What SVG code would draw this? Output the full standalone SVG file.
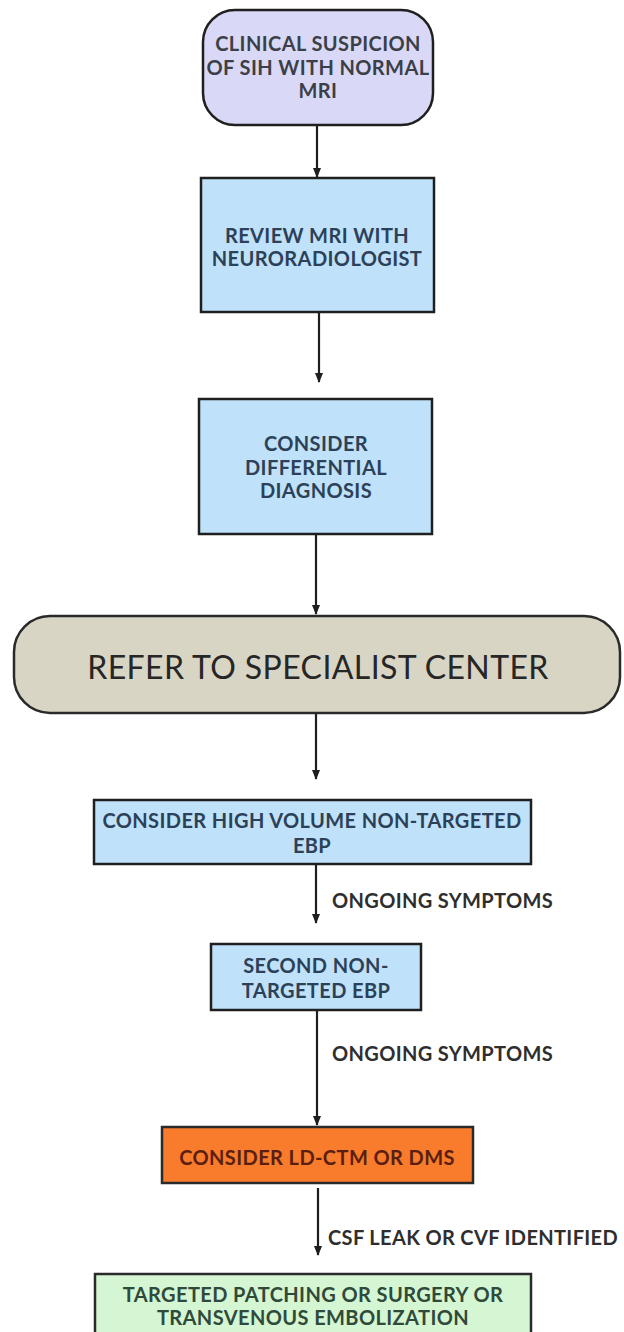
<svg xmlns="http://www.w3.org/2000/svg" width="624" height="1332" viewBox="0 0 624 1332">
<defs>
<marker id="ah" markerWidth="10" markerHeight="8" refX="9" refY="4" orient="auto" markerUnits="userSpaceOnUse">
<path d="M0,0 L10,4 L0,8 z" fill="#1e1e1e"/>
</marker>
<style>
.t{font-family:Lato,"Noto Sans","Liberation Sans",sans-serif;font-weight:700;font-size:20px;letter-spacing:0.4px;text-anchor:middle;dominant-baseline:central}
.blue{fill:#bfe2fa;stroke:#1f1f1f;stroke-width:2.5}
.bt{fill:#2c4158}
.lbl{font-family:Lato,"Noto Sans","Liberation Sans",sans-serif;font-weight:700;fill:#2e2e2e;font-size:20px;letter-spacing:0.35px;dominant-baseline:central}
.c{stroke:#1e1e1e;stroke-width:2.2;fill:none;marker-end:url(#ah)}
.big{font-family:Lato,"Noto Sans","Liberation Sans",sans-serif;font-weight:400;font-size:32px;letter-spacing:0.4px;text-anchor:middle;dominant-baseline:central;fill:#262626}
</style>
</defs>
<rect width="624" height="1332" fill="#ffffff"/>
<g id="connectors">
<line class="c" x1="317" y1="125" x2="317" y2="177"/>
<line class="c" x1="319" y1="312" x2="319" y2="382"/>
<line class="c" x1="316" y1="534" x2="316" y2="614"/>
<line class="c" x1="316" y1="713" x2="316" y2="779"/>
<line class="c" x1="316" y1="864" x2="316" y2="923"/>
<text class="lbl" x="332" y="900">ONGOING SYMPTOMS</text>
<line class="c" x1="317" y1="1010" x2="317" y2="1125"/>
<text class="lbl" x="332" y="1053">ONGOING SYMPTOMS</text>
<line class="c" x1="318" y1="1188" x2="318" y2="1255"/>
<text class="lbl" x="328" y="1237">CSF LEAK OR CVF IDENTIFIED</text>
</g>
<g id="n1">
<rect x="203" y="10" width="230" height="115" rx="32" fill="#d9d9f7" stroke="#1f1f1f" stroke-width="2.5"/>
<text class="t" fill="#3b3f48" x="318" y="43">CLINICAL SUSPICION</text>
<text class="t" fill="#3b3f48" x="318" y="67">OF SIH WITH NORMAL</text>
<text class="t" fill="#3b3f48" x="318" y="90">MRI</text>
</g>
<g id="n2">
<rect class="blue" x="201" y="178" width="233" height="134"/>
<text class="t bt" x="317" y="235">REVIEW MRI WITH</text>
<text class="t bt" x="317" y="258">NEURORADIOLOGIST</text>
</g>
<g id="n3">
<rect class="blue" x="199" y="399" width="233" height="135"/>
<text class="t bt" x="316" y="443">CONSIDER</text>
<text class="t bt" x="316" y="467">DIFFERENTIAL</text>
<text class="t bt" x="316" y="490">DIAGNOSIS</text>
</g>
<g id="n4">
<rect x="14" y="616" width="606" height="97" rx="36" fill="#d9d5c5" stroke="#2a2a2a" stroke-width="2.5"/>
<text class="big" x="318" y="666">REFER TO SPECIALIST CENTER</text>
</g>
<g id="n5">
<rect class="blue" x="94" y="800" width="437" height="64"/>
<text class="t bt" x="312" y="820">CONSIDER HIGH VOLUME NON-TARGETED</text>
<text class="t bt" x="312" y="845">EBP</text>
</g>
<g id="n6">
<rect class="blue" x="211" y="944" width="210" height="66"/>
<text class="t bt" x="316" y="965">SECOND NON-</text>
<text class="t bt" x="316" y="990">TARGETED EBP</text>
</g>
<g id="n7">
<rect x="162" y="1127" width="311" height="56" fill="#f97b2c" stroke="#2a2a2a" stroke-width="2.5"/>
<text class="t" x="317" y="1157" fill="#5a1f10">CONSIDER LD-CTM OR DMS</text>
</g>
<g id="n8">
<rect x="95" y="1274" width="436" height="70" fill="#d5f6d3" stroke="#2a2a2a" stroke-width="2.5"/>
<text class="t" x="313" y="1294" fill="#2f4a3a">TARGETED PATCHING OR SURGERY OR</text>
<text class="t" x="313" y="1317" fill="#2f4a3a">TRANSVENOUS EMBOLIZATION</text>
</g>
</svg>
